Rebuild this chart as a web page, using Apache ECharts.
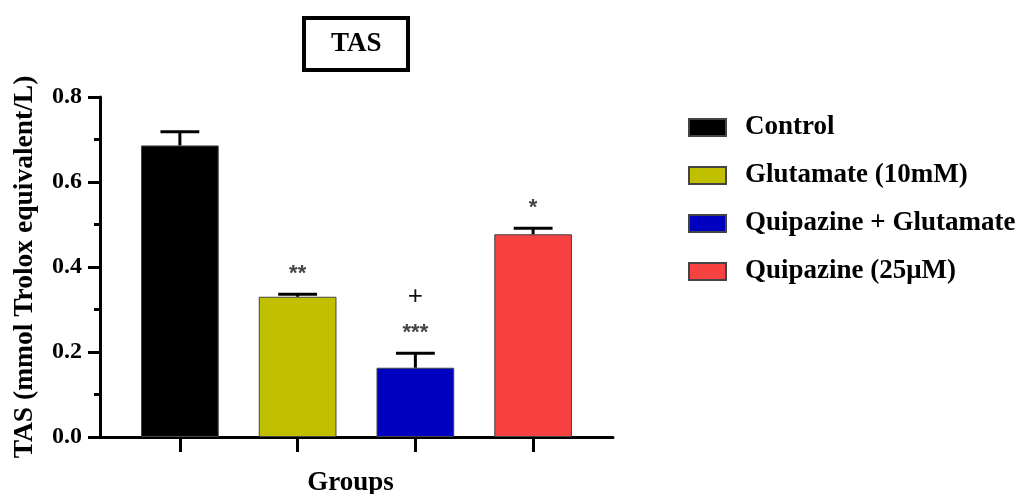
<!DOCTYPE html>
<html>
<head>
<meta charset="utf-8">
<script src="https://cdn.jsdelivr.net/npm/echarts@6/dist/echarts.min.js"></script>
<style>html,body{margin:0;padding:0;background:#fff}#c{width:1016px;height:494px}</style>
</head>
<body>
<div id="c"></div>
<script>
const groups = ['Control', 'Glutamate (10mM)', 'Quipazine + Glutamate', 'Quipazine (25\u03bcM)'];
const means = [0.686, 0.330, 0.163, 0.477];
const errors = [0.032, 0.006, 0.034, 0.014];
const sigStars = ['', '**', '***', '*'];
const sigPlus = ['', '', '+', ''];
const colors = ['#000000', '#c0c000', '#0000c0', '#f84141'];
const yTicks = [0, 0.2, 0.4, 0.6, 0.8];

const serif = '"Liberation Serif", "Times New Roman", serif';
const chart = echarts.init(document.getElementById('c'), null, {renderer: 'canvas'});

const barSeries = groups.map((g, i) => ({
  name: g,
  type: 'bar',
  xAxisIndex: 1,
  yAxisIndex: 1,
  barWidth: '66%',
  barGap: '-100%',
  data: means.map((v, j) => j === i ? v : '-'),
  itemStyle: {color: colors[i], borderColor: '#444', borderWidth: 1},
  z: 2
}));

const errSeries = {
  type: 'custom',
  xAxisIndex: 1,
  yAxisIndex: 1,
  z: 5,
  silent: true,
  data: means.map((m, i) => [i, m, m + errors[i]]),
  renderItem: function (params, api) {
    const i = api.value(0);
    const base = api.coord([i, api.value(1)]);
    const top = api.coord([i, api.value(2)]);
    const band = api.size([1, 0])[0];
    const half = band * 0.165;
    const children = [
      {type: 'line', shape: {x1: top[0], y1: base[1], x2: top[0], y2: top[1]}, style: {stroke: '#000', lineWidth: 3}},
      {type: 'line', shape: {x1: top[0] - half, y1: top[1], x2: top[0] + half, y2: top[1]}, style: {stroke: '#000', lineWidth: 3}}
    ];
    if (sigStars[i]) {
      children.push({type: 'text', x: top[0], y: top[1] - 20, style: {text: sigStars[i], fill: '#444', font: 'bold 22px "Liberation Sans", Arial, sans-serif', align: 'center', verticalAlign: 'middle'}});
    }
    if (sigPlus[i]) {
      children.push({type: 'text', x: top[0], y: top[1] - 56, style: {text: sigPlus[i], fill: '#111', font: '26px "Liberation Sans", Arial, sans-serif', align: 'center', verticalAlign: 'middle'}});
    }
    return {type: 'group', children: children};
  }
};

chart.setOption({
  animation: false,
  backgroundColor: '#fff',
  title: {
    text: 'TAS',
    left: 304,
    top: 18,
    padding: [12, 27],
    borderColor: '#000',
    borderWidth: 4,
    textStyle: {fontFamily: serif, fontWeight: 'bold', fontSize: 27, color: '#000', lineHeight: 28}
  },
  legend: {
    orient: 'vertical',
    left: 688,
    top: 114,
    padding: 0,
    itemWidth: 37,
    itemHeight: 17,
    itemGap: 21,
    icon: 'rect',
    data: groups,
    textStyle: {fontFamily: serif, fontWeight: 'bold', fontSize: 27, color: '#000', padding: [0, 0, 0, 14]}
  },
  grid: [
    {left: 100, right: 403, top: 97, bottom: 57, outerBoundsMode: 'none', containLabel: false},
    {left: 121, right: 424, top: 97, bottom: 57, outerBoundsMode: 'none', containLabel: false}
  ],
  xAxis: [
    {
      type: 'value', gridIndex: 0, min: 0, max: 1,
      axisLine: {show: true, onZero: false, lineStyle: {color: '#000', width: 3}},
      axisTick: {show: false}, axisLabel: {show: false}, splitLine: {show: false}
    },
    {
      type: 'category', gridIndex: 1, data: groups,
      axisLine: {show: false},
      axisTick: {show: true, alignWithLabel: true, interval: 0, length: 15, lineStyle: {color: '#000', width: 3}},
      axisLabel: {show: false, interval: 0},
      name: 'Groups', nameLocation: 'middle', nameGap: 33,
      nameTextStyle: {fontFamily: serif, fontWeight: 'bold', fontSize: 27, color: '#000', padding: [0, 12, 0, 0]}
    }
  ],
  yAxis: [
    {
      type: 'value', gridIndex: 0, min: yTicks[0], max: yTicks[yTicks.length - 1], interval: 0.2,
      axisLine: {show: true, lineStyle: {color: '#000', width: 3}},
      axisTick: {show: true, length: 12, lineStyle: {color: '#000', width: 3}},
      minorTick: {show: true, splitNumber: 2, length: 6, lineStyle: {color: '#000', width: 3}},
      splitLine: {show: false},
      axisLabel: {margin: 18, fontFamily: serif, fontWeight: 'bold', fontSize: 24, color: '#000', formatter: v => v.toFixed(1)},
      name: 'TAS (mmol Trolox equivalent/L)', nameLocation: 'middle', nameGap: 61, nameRotate: 90,
      nameTextStyle: {fontFamily: serif, fontWeight: 'bold', fontSize: 27.5, color: '#000'}
    },
    {
      type: 'value', gridIndex: 1, min: yTicks[0], max: yTicks[yTicks.length - 1], interval: 0.2, show: false
    }
  ],
  series: barSeries.concat([errSeries])
});
</script>
</body>
</html>
